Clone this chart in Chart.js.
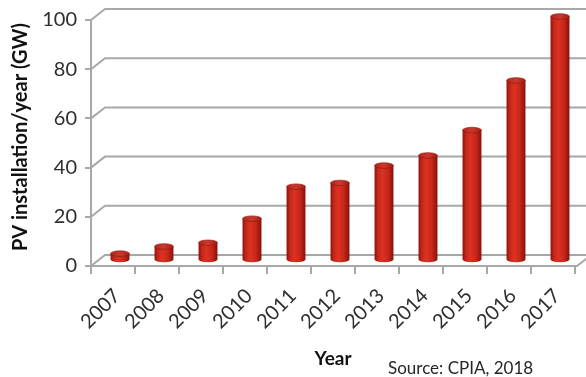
<!DOCTYPE html>
<html>
<head>
<meta charset="utf-8">
<script src="https://cdn.jsdelivr.net/npm/chart.js@4.4.1/dist/chart.umd.min.js"></script>
<style>
  html, body { margin: 0; padding: 0; background: #ffffff; }
  #wrap { width: 586px; height: 377px; position: relative; }
</style>
</head>
<body>
<div id="wrap"><canvas id="pv" width="586" height="377"></canvas></div>
<script>
// Annual PV installations (GW)
const years = ['2007', '2008', '2009', '2010', '2011', '2012', '2013', '2014', '2015', '2016', '2017'];
const installedGW = [2.8, 5.7, 7.2, 17, 30, 31.5, 38.6, 42.7, 53, 73.2, 99.2];
const yTicks = [0, 20, 40, 60, 80, 100];

const yTitle = 'PV installation/year (GW)';
const xTitle = 'Year';
const sourceNote = 'Source: CPIA, 2018';

// depth of the pseudo-3D box (wall offset)
const DEPTH_X = 14, DEPTH_Y = 11;
const GRID = '#a8a8a8';
const TEXT = '#2e2e2e';

// back wall, floor and side edges of the box
const wallPlugin = {
  id: 'wall',
  beforeDatasetsDraw(chart) {
    const { ctx, chartArea: a, scales: { y } } = chart;
    ctx.save();
    ctx.strokeStyle = GRID;
    ctx.lineWidth = 2;
    yTicks.forEach(v => {
      const py = y.getPixelForValue(v);
      ctx.beginPath();
      ctx.moveTo(a.left, py);
      ctx.lineTo(a.left + DEPTH_X, py - DEPTH_Y);
      ctx.lineTo(chart.width + 5, py - DEPTH_Y);
      ctx.stroke();
    });
    // front floor edge and right floor edge
    const py0 = y.getPixelForValue(0);
    ctx.beginPath();
    ctx.moveTo(a.left, py0);
    ctx.lineTo(a.right + 2, py0);
    ctx.lineTo(a.right + 2 + DEPTH_X, py0 - DEPTH_Y);
    ctx.stroke();
    ctx.restore();
  }
};

// cylinders built on top of the bar elements' geometry
const cylinderPlugin = {
  id: 'cylinders',
  afterDatasetsDraw(chart) {
    const { ctx } = chart;
    const meta = chart.getDatasetMeta(0);
    ctx.save();
    meta.data.forEach(bar => {
      const p = bar.getProps(['x', 'y', 'base', 'width'], true);
      const cx = p.x + DEPTH_X / 2;
      const w = p.width;
      const left = cx - w / 2, right = cx + w / 2;
      const top = p.y - DEPTH_Y / 2;
      const bottom = p.base - DEPTH_Y / 2;
      const ry = 2.8;

      const g = ctx.createLinearGradient(left, 0, right, 0);
      g.addColorStop(0, '#8e140d');
      g.addColorStop(0.18, '#c6261a');
      g.addColorStop(0.4, '#dc3222');
      g.addColorStop(0.7, '#c92719');
      g.addColorStop(1, '#86110b');

      // body with rounded bottom
      ctx.beginPath();
      ctx.moveTo(left, top);
      ctx.lineTo(left, bottom);
      ctx.ellipse(cx, bottom, w / 2, ry, 0, Math.PI, 0, true);
      ctx.lineTo(right, top);
      ctx.closePath();
      ctx.fillStyle = g;
      ctx.fill();

      // top cap
      ctx.beginPath();
      ctx.ellipse(cx, top, w / 2, ry, 0, 0, Math.PI * 2);
      const tg = ctx.createLinearGradient(left, 0, right, 0);
      tg.addColorStop(0, '#b0241a');
      tg.addColorStop(0.5, '#c83a2e');
      tg.addColorStop(1, '#a21d14');
      ctx.fillStyle = tg;
      ctx.fill();
      ctx.strokeStyle = 'rgba(150,20,12,0.8)';
      ctx.lineWidth = 0.8;
      ctx.stroke();
    });
    ctx.restore();
  }
};

// axis titles and source note
const textPlugin = {
  id: 'texts',
  afterDraw(chart) {
    const { ctx, chartArea: a } = chart;
    ctx.save();
    ctx.fillStyle = '#111111';
    ctx.textAlign = 'center';
    ctx.textBaseline = 'middle';
    ctx.font = 'bold 20px Lato';
    ctx.translate(21, 137);
    ctx.rotate(-Math.PI / 2);
    ctx.fillText(yTitle, 0, 0);
    ctx.restore();

    ctx.save();
    ctx.fillStyle = '#111111';
    ctx.textAlign = 'center';
    ctx.textBaseline = 'middle';
    ctx.font = 'bold 19px Lato';
    ctx.fillText(xTitle, (a.left + a.right) / 2, 359);
    ctx.fillStyle = '#262626';
    ctx.textAlign = 'left';
    ctx.font = '17px Lato';
    ctx.fillText(sourceNote, 388, 369);
    ctx.restore();
  }
};

new Chart(document.getElementById('pv'), {
  type: 'bar',
  data: {
    labels: years,
    datasets: [{
      data: installedGW,
      backgroundColor: 'rgba(0,0,0,0)',
      borderWidth: 0,
      barPercentage: 0.43,
      categoryPercentage: 1
    }]
  },
  options: {
    responsive: false,
    animation: false,
    events: [],
    layout: { padding: { top: 20, right: 11, left: 0, bottom: 0 } },
    plugins: { legend: { display: false }, tooltip: { enabled: false }, title: { display: false } },
    scales: {
      x: {
        grid: { display: true, drawOnChartArea: false, drawTicks: true, tickLength: 8, color: GRID, lineWidth: 2, offset: true },
        border: { display: false },
        ticks: {
          minRotation: 45, maxRotation: 45, padding: 10, labelOffset: 4,
          color: TEXT, font: { family: 'Lato', size: 20 }
        },
        afterFit(scale) { scale.height = 111; }
      },
      y: {
        min: 0, max: 100,
        afterBuildTicks(scale) { scale.ticks = yTicks.map(v => ({ value: v })); },
        grid: { display: true, drawOnChartArea: false, drawTicks: true, tickLength: 6, color: GRID, lineWidth: 2 },
        border: { display: true, color: GRID, width: 2 },
        ticks: { padding: 8, color: TEXT, font: { family: 'Lato', size: 20 } },
        afterFit(scale) { scale.width = 91; }
      }
    }
  },
  plugins: [wallPlugin, cylinderPlugin, textPlugin]
});
</script>
</body>
</html>
